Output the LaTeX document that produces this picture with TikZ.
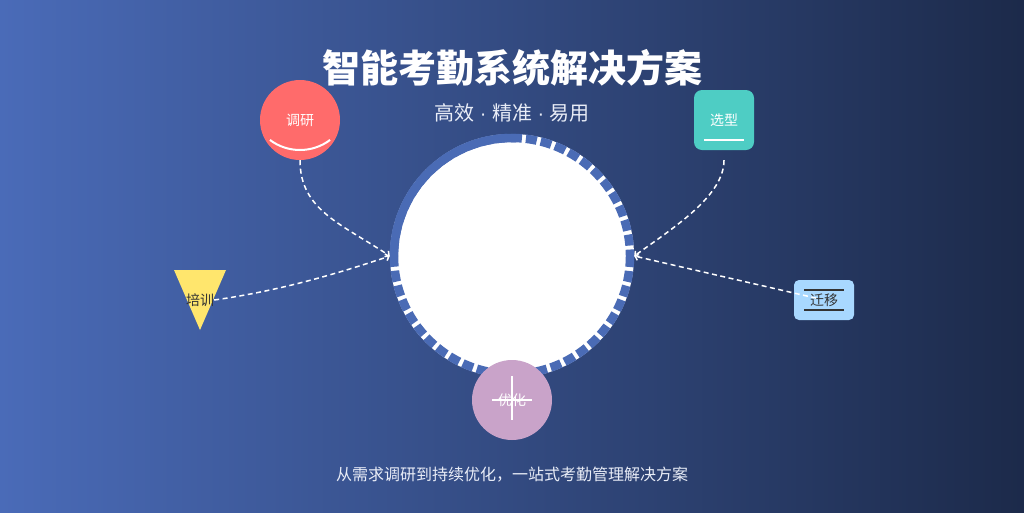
\documentclass[tikz,border=0pt]{standalone}
\usepackage{fontspec}
\setmainfont{Noto Sans CJK SC}
\newfontfamily\latinfont{Liberation Sans}
\usetikzlibrary{arrows.meta}
\definecolor{bgleft}{HTML}{4A6BB8}
\definecolor{bgright}{HTML}{1C2A4A}
\definecolor{ringblue}{HTML}{4A6BB5}
\definecolor{coral}{HTML}{FF6B6B}
\definecolor{mint}{HTML}{4ECDC4}
\definecolor{sun}{HTML}{FFE66D}
\definecolor{sky}{HTML}{A8D8FF}
\definecolor{lilac}{HTML}{C9A3C9}
\definecolor{ink}{HTML}{333333}
\newcommand\middot{{\latinfont\ ·\ }}
\begin{document}
\begin{tikzpicture}[x=1pt,y=-1pt,>={Straight Barb[length=3pt,width=7pt]},
    flow/.style={white,line width=1.5pt,dash pattern=on 5pt off 3.5pt},
    tag/.style={font=\fontsize{14}{16}\selectfont,inner sep=0pt},
    mark line/.style={line width=2pt}]
      \shade [left color=bgleft,right color=bgright] (0,0) rectangle (1024,512);
      \useasboundingbox (0,0) rectangle (1024,512);
      \node [text=white,font=\fontsize{38}{44}\selectfont\bfseries] (title) at (512,68) {智能考勤系统解决方案};
      \node [text=white!88!bgleft,font=\fontsize{20}{24}\selectfont] (subtitle) at (512,113) {高效\middot 精准\middot 易用};
      % ring
      \node [circle,fill=white,minimum size=244,inner sep=0pt] (core) at (512,256) {};
      \draw [ringblue,line width=8.5pt,dash pattern=on 11pt off 4pt] (core.center) circle (118);
      \draw [ringblue,line width=8.5pt] (core.center) ++(180:118) arc (180:272:118);
      \node [circle,fill=coral,minimum size=80,text=white,tag] (diaoyan) at (300,120) {调研};
      \draw [white,mark line] (300,100) ++(53:50) arc (53:127:50);
      \node [rounded corners=8pt,fill=mint,minimum width=60,minimum height=60,text=white,tag] (xuanxing) at (724,120) {选型};
      \draw [white,mark line] (704,140) -- (744,140);
      \draw [fill=sun,draw=none] (174,270) -- (226,270) -- (200,330) -- cycle;
      \node [text=ink,tag] (peixun) at (200,300) {培训};
      \node [rounded corners=5pt,fill=sky,minimum width=60,minimum height=40,text=ink,tag] (qianyi) at (824,300) {迁移};
      \draw [ink,mark line] (804,290) -- (844,290) (804,310) -- (844,310);
      \node [circle,fill=lilac,minimum size=80,text=white,tag] (youhua) at (512,400) {优化};
      \draw [white,mark line] (512,376) -- (512,420) (492,400) -- (532,400);
      \draw [flow,->] (diaoyan.south) .. controls +(0,50) and +(-48,-32) .. (core.west);
      \draw [flow,->,shorten <=10pt] (xuanxing.south) .. controls +(0,45) and +(42,-30) .. (core.east);
      \draw [flow,->] (peixun.east) .. controls +(57,-8) and +(-62,21) .. (core.west);
      \draw [flow,->,shorten <=8pt] (qianyi.center) -- (core.east);
      \node [text=white!88!bgleft,font=\fontsize{16}{20}\selectfont] (footer) at (512,475) {从需求调研到持续优化，一站式考勤管理解决方案};
    \end{tikzpicture}
\end{document}
